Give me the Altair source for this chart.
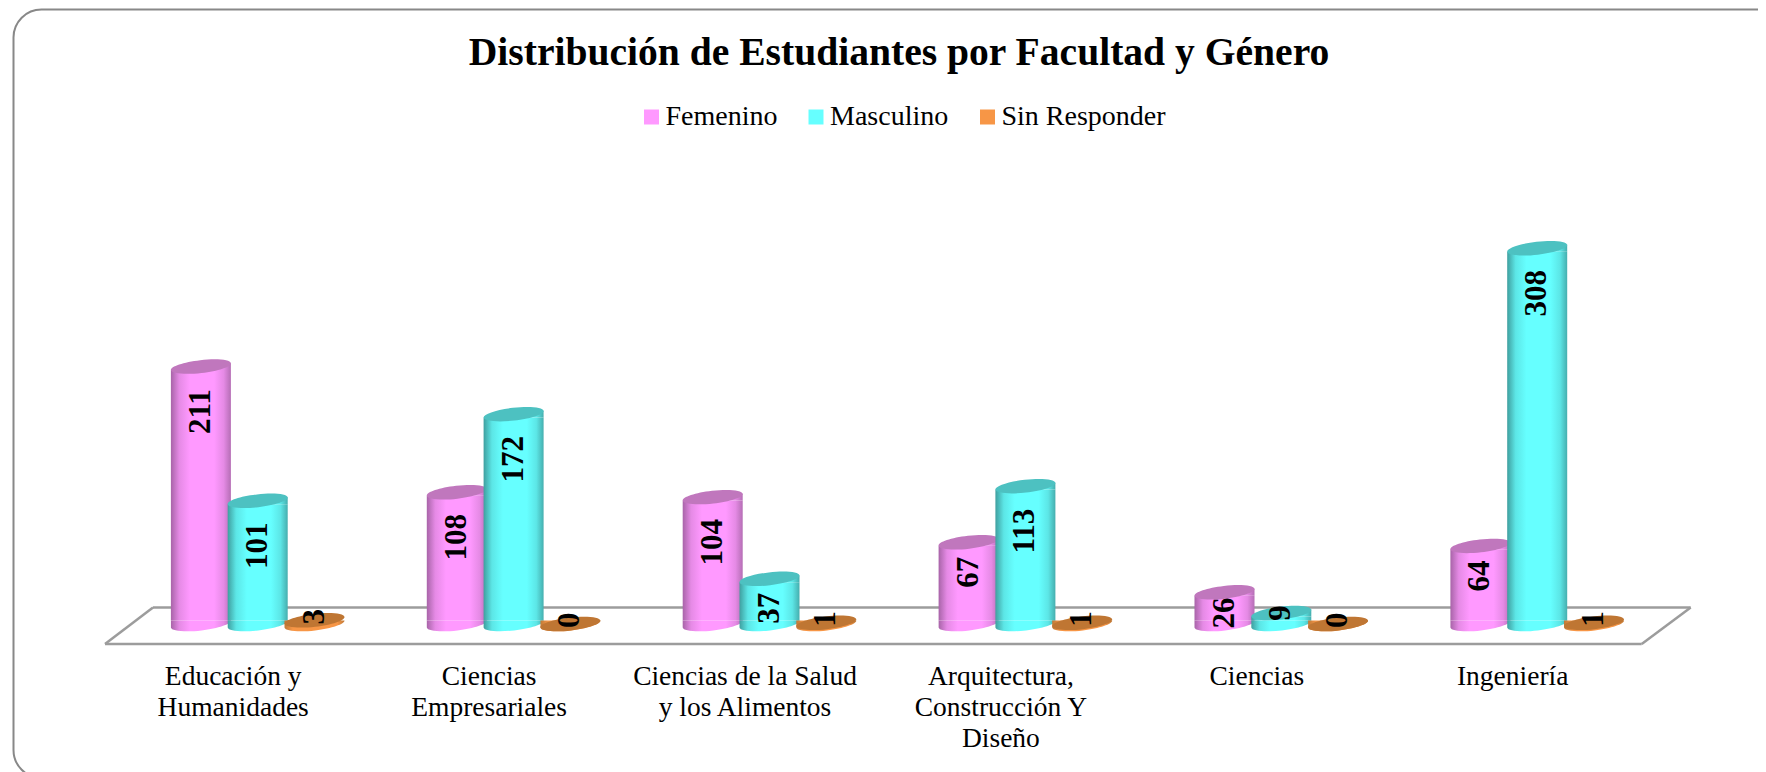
import altair as alt
import pandas as pd

TITLE = "Distribución de Estudiantes por Facultad y Género"
categories = ["Educación y|Humanidades", "Ciencias|Empresariales", "Ciencias de la Salud|y los Alimentos",
              "Arquitectura,|Construcción Y|Diseño", "Ciencias", "Ingeniería"]
series = ["Femenino", "Masculino", "Sin Responder"]
femenino = [211, 108, 104, 67, 26, 64]
masculino = [101, 172, 37, 113, 9, 308]
sin_responder = [3, 0, 1, 1, 0, 1]

rows = []
for name, vals in zip(series, [femenino, masculino, sin_responder]):
    for c, v in zip(categories, vals):
        rows.append({"cat": c, "serie": name, "value": v})
df = pd.DataFrame(rows)

base_colors = ["#FF99FF", "#66FFFF", "#F79646"]
cap_colors = ["#C077BD", "#4DC1C1", "#BF7633"]
edge_colors = [("#A864A8", "#E58AE5", "#B56EB5"), ("#3F9F9F", "#5CE6E6", "#45AEAE"), ("#C07A38", "#F79646", "#C07A38")]

FONT = "Liberation Serif"
Y_SCALE = alt.Scale(domain=[0, 350], range=[427, 0])
x_enc = alt.X("cat:N", sort=None, title=None,
              scale=alt.Scale(domain=categories, range=[97.25, 1632.65], paddingInner=0, paddingOuter=0, round=False),
              axis=alt.Axis(domain=False, ticks=False, grid=False, labelAngle=0, labelFont=FONT, labelFontSize=27.5,
                            labelColor="#000000", labelPadding=38, labelLimit=0, labelOverlap=False,
                            labelLineHeight=31, labelBaseline="top",
                            labelExpr="split(datum.label, '|')"))
off_enc = alt.XOffset("serie:N", sort=series, title=None,
                      scale=alt.Scale(domain=series, range=[67.25, 237.65], paddingInner=0, paddingOuter=0, round=False))

ELLIPSE = "M-0.994,0.113A1,0.213,-6.5,1,0,0.994,-0.113A1,0.213,-6.5,1,0,-0.994,0.113Z"
TOP_FILL = "M-0.994,0.113L0.994,-0.113L0.994,0.113Z"
BOTTOM_FILL = "M-0.994,-0.113L0.994,-0.113A1,0.213,-6.5,0,1,-0.994,0.113Z"
SIZE = 3640


def grad(i):
    a, b, c = edge_colors[i]
    return alt.Gradient(gradient="linear", x1=0, x2=1, y1=0, y2=0, stops=[
        alt.GradientStop(offset=0, color=a), alt.GradientStop(offset=0.14, color=b),
        alt.GradientStop(offset=0.32, color=base_colors[i]), alt.GradientStop(offset=0.72, color=base_colors[i]),
        alt.GradientStop(offset=0.88, color=b), alt.GradientStop(offset=1, color=c)])


one = alt.Data(values=[{"a": 0}])
frame = alt.Chart(one).mark_rect(filled=False, stroke="#888888", strokeWidth=2, cornerRadius=28).encode(
    x=alt.value(5.5), x2=alt.value(1800), y=alt.value(-187.5), y2=alt.value(581))
G = "#9C9C9C"
floor = [
    alt.Chart(one).mark_rule(color=G, strokeWidth=2.5).encode(x=alt.value(a), x2=alt.value(b), y=alt.value(c), y2=alt.value(d))
    for a, b, c, d in [(145, 1682.7, 410.5, 410.5), (97, 1633.7, 447, 447), (97, 145, 447, 410.5), (1633.7, 1682.7, 447, 410.5)]
]

legend_layer = alt.Chart(df).mark_point(filled=True, opacity=0, size=1).encode(
    x=x_enc, y=alt.Y("value:Q", scale=Y_SCALE, axis=None),
    color=alt.Color("serie:N", sort=series, scale=alt.Scale(domain=series, range=base_colors),
                    legend=alt.Legend(title=None, orient="none", direction="horizontal", legendX=629.5, legendY=-94,
                                      symbolType="square", symbolSize=225, symbolStrokeWidth=0, symbolOpacity=1,
                                      labelFont=FONT, labelFontSize=28, labelColor="#000000", labelOffset=0,
                                      columnPadding=24.5, labelLimit=0)))

layers = [frame] + floor + [legend_layer]
for i, name in enumerate(series):
    src = alt.Chart(df).transform_filter(alt.datum.serie == name)
    tall = src.transform_filter("datum.value > 5.6")
    ypos = alt.Y("value:Q", scale=Y_SCALE, axis=None)
    layers.append(src.mark_point(shape=BOTTOM_FILL, size=SIZE, filled=True, fill=grad(i), opacity=1, strokeWidth=0).encode(
        x=x_enc, xOffset=off_enc, y=alt.Y("zero:Q", scale=Y_SCALE, axis=None)).transform_calculate(zero="0"))
    layers.append(tall.transform_calculate(bot="2.8", top="datum.value - 2.8").mark_bar(width=60, fill=grad(i), strokeWidth=0).encode(
        x=x_enc, xOffset=off_enc, y=alt.Y("top:Q", scale=Y_SCALE, axis=None), y2="bot:Q"))
    layers.append(tall.mark_point(shape=TOP_FILL, size=SIZE, filled=True, fill=grad(i), opacity=1, strokeWidth=0).encode(
        x=x_enc, xOffset=off_enc, y=ypos))
    layers.append(src.mark_point(shape=ELLIPSE, size=SIZE, filled=True, fill=cap_colors[i], opacity=1, strokeWidth=0).encode(
        x=x_enc, xOffset=off_enc, y=ypos))

label_pos = ("datum.value < 5 ? datum.value + 3 : datum.value < 10 ? datum.value : "
             "datum.value - min(12.3 * length(toString(datum.value)), 0.65 * datum.value)")
labels = alt.Chart(df).transform_calculate(pos=label_pos).mark_text(
    font=FONT, fontSize=31, fontWeight="bold", angle=270, color="#000000", align="center", baseline="middle").encode(
    x=x_enc, xOffset=off_enc, y=alt.Y("pos:Q", scale=Y_SCALE, axis=None), text="value:Q")
layers.append(labels)

chart = alt.layer(*layers).properties(
    width=1750, height=427,
    padding={"left": 0, "right": 0, "top": 189, "bottom": 148},
    autosize=alt.AutoSizeParams(type="none"),
    background="#FFFFFF",
    title=alt.TitleParams(TITLE, font=FONT, fontSize=39.6, fontWeight="bold", color="#000000", anchor="middle", dx=16,
                          offset=-65.5),
).configure_view(stroke=None)

chart.save("out.html", embed_options={"renderer": "svg", "actions": False})
